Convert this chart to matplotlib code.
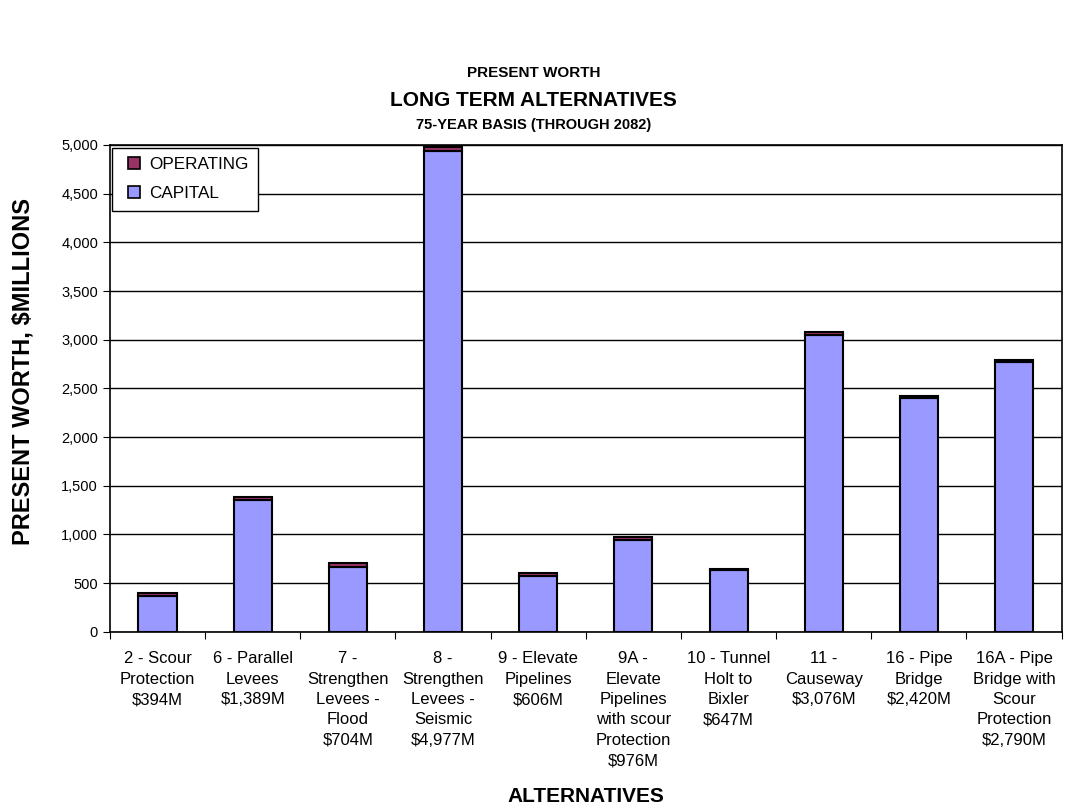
import numpy as np
import matplotlib.pyplot as plt
from matplotlib.lines import Line2D
from matplotlib.ticker import FuncFormatter, MultipleLocator

plt.rcParams['font.family'] = ['Liberation Sans', 'DejaVu Sans']

# alternatives (x tick labels) and present worth, $ millions
labels = [
    "2 - Scour\nProtection\n$394M",
    "6 - Parallel\nLevees\n$1,389M",
    "7 -\nStrengthen\nLevees -\nFlood\n$704M",
    "8 -\nStrengthen\nLevees -\nSeismic\n$4,977M",
    "9 - Elevate\nPipelines\n$606M",
    "9A -\nElevate\nPipelines\nwith scour\nProtection\n$976M",
    "10 - Tunnel\nHolt to\nBixler\n$647M",
    "11 -\nCauseway\n$3,076M",
    "16 - Pipe\nBridge\n$2,420M",
    "16A - Pipe\nBridge with\nScour\nProtection\n$2,790M",
]
total = [394, 1389, 704, 4977, 606, 976, 647, 3076, 2420, 2790]
operating = [30, 35, 35, 40, 30, 30, 10, 25, 15, 15]
capital = [t - o for t, o in zip(total, operating)]

cap_col = "#9999FF"
op_col = "#993366"

fig = plt.figure(figsize=(10.67, 8.10), dpi=100)
ax = fig.add_axes([0.103, 0.22, 0.892, 0.601])

x = np.arange(len(labels))
ax.bar(x, capital, width=0.4, color=cap_col, edgecolor="black", linewidth=1.5, zorder=3)
ax.bar(x, operating, width=0.4, bottom=capital, color=op_col, edgecolor="black",
       linewidth=1.5, zorder=3)

ax.set_xlim(-0.5, len(labels) - 0.5)
ax.set_ylim(0, 5000)
ax.yaxis.set_major_locator(MultipleLocator(500))
ax.yaxis.set_major_formatter(FuncFormatter(lambda v, p: f"{int(v):,}"))
ax.grid(axis="y", color="black", linewidth=1, zorder=0)
ax.tick_params(axis="y", labelsize=10.5, direction="out", length=5)

# ticks between categories, labels centred under bars
ax.set_xticks(np.arange(-0.5, len(labels), 1.0))
ax.set_xticklabels([])
ax.set_xticks(x, minor=True)
ax.set_xticklabels(labels, minor=True, fontsize=12, linespacing=1.45, va="top")
ax.tick_params(axis="x", which="minor", length=0, pad=14)
ax.tick_params(axis="x", which="major", length=5, direction="out")

for s in ax.spines.values():
    s.set_linewidth(1.2)
    s.set_color("black")

handles = [
    Line2D([], [], marker="s", linestyle="none", markersize=9, markerfacecolor=op_col,
           markeredgecolor="black", markeredgewidth=1.2),
    Line2D([], [], marker="s", linestyle="none", markersize=9, markerfacecolor=cap_col,
           markeredgecolor="black", markeredgewidth=1.2),
]
leg = ax.legend(handles, ["OPERATING", "CAPITAL"], loc="upper left", fontsize=12.3,
                fancybox=False, edgecolor="black", framealpha=1, handlelength=1.4,
                handletextpad=0.2, borderaxespad=0.15, labelspacing=0.85,
                borderpad=0.55)
leg.get_frame().set_linewidth(1)
leg.set_zorder(5)

ax.set_ylabel("PRESENT WORTH, $MILLIONS", fontsize=17, fontweight="bold")
ax.yaxis.set_label_coords(-0.079, 0.534)
ax.set_xlabel("ALTERNATIVES", fontsize=15, fontweight="bold")
ax.xaxis.set_label_coords(0.5, -0.318)

fig.text(0.5, 1 - 73 / 810, "PRESENT WORTH", ha="center", va="center",
         fontsize=11, fontweight="bold")
fig.text(0.5, 1 - 100 / 810, "LONG TERM ALTERNATIVES", ha="center", va="center",
         fontsize=15, fontweight="bold")
fig.text(0.5, 1 - 125 / 810, "75-YEAR BASIS (THROUGH 2082)", ha="center", va="center",
         fontsize=10.5, fontweight="bold")

fig.savefig("out.png", dpi=100)
